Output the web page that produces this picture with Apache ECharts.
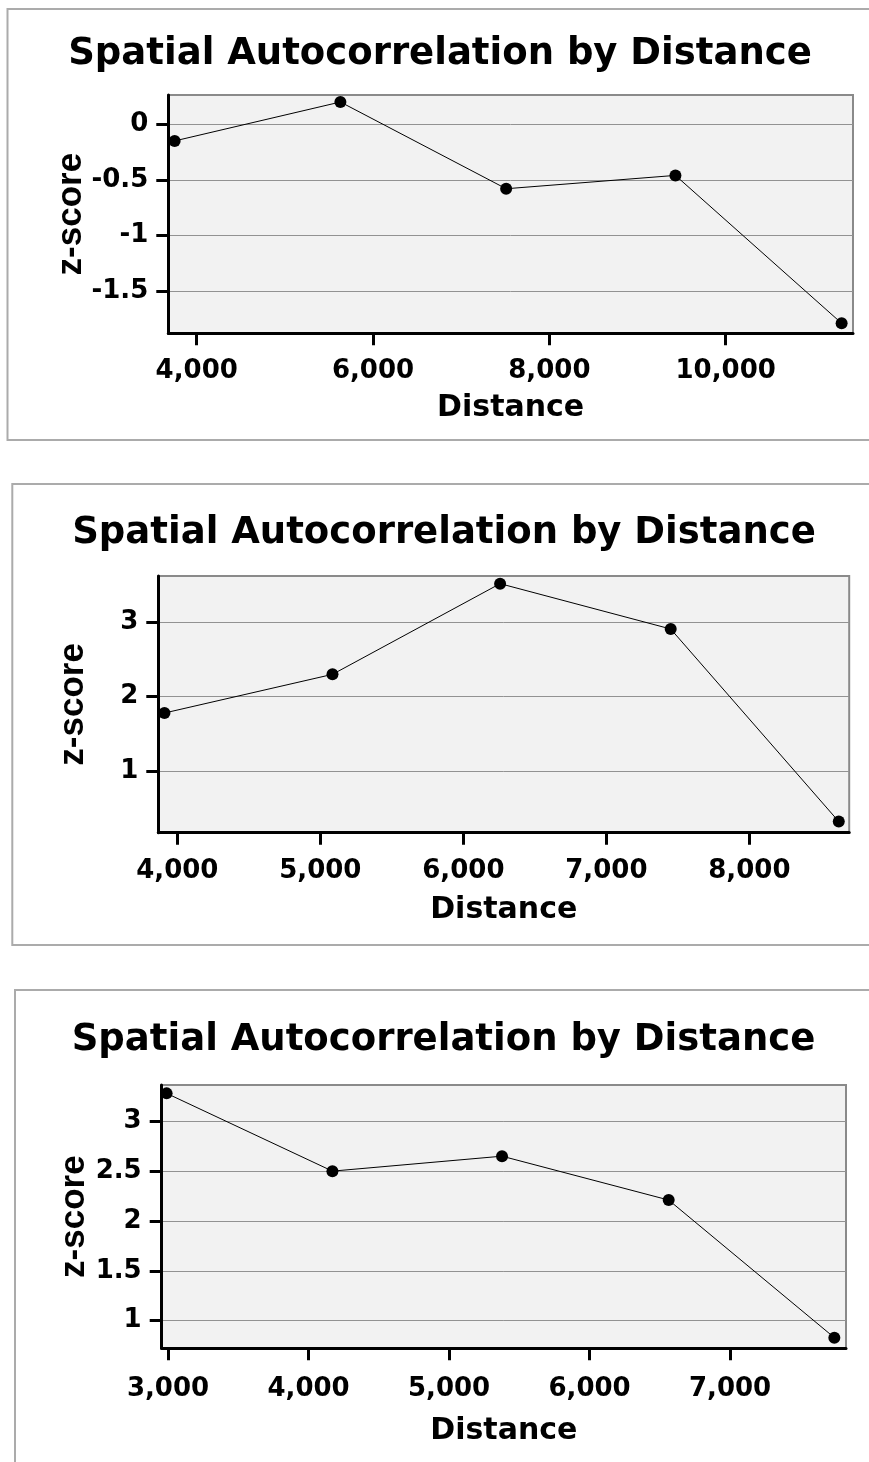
<!DOCTYPE html>
<html><head><meta charset="utf-8">
<script src="https://cdn.jsdelivr.net/npm/echarts@6/dist/echarts.min.js"></script>
<style>html,body{margin:0;padding:0;background:#fff}#c{width:869px;height:1462px}</style>
</head><body><div id="c"></div>
<script>
// ---- data ----
const titleText = 'Spatial Autocorrelation by Distance';
const xName = 'Distance';
const yName = 'z-score';

const dist1 = [3750, 5630, 7510, 9430, 11315];
const z1 = [-0.15, 0.20, -0.58, -0.46, -1.79];
const xTicks1 = [4000, 6000, 8000, 10000];
const yTicks1 = [-1.5, -1, -0.5, 0];

const dist2 = [3910, 5085, 6257, 7450, 8625];
const z2 = [1.78, 2.30, 3.52, 2.91, 0.32];
const xTicks2 = [4000, 5000, 6000, 7000, 8000];
const yTicks2 = [1, 2, 3];

const dist3 = [2990, 4170, 5377, 6563, 7742];
const z3 = [3.28, 2.50, 2.65, 2.21, 0.83];
const xTicks3 = [3000, 4000, 5000, 6000, 7000];
const yTicks3 = [1, 1.5, 2, 2.5, 3];

// axis extents
const xRange1 = [3678, 11444], yRange1 = [-1.88, 0.263];
const xRange2 = [3867, 8698],  yRange2 = [0.17, 3.623];
const xRange3 = [2955, 7825],  yRange3 = [0.723, 3.364];

// ---- layout ----
const panels = [
  {dist: dist1, z: z1, xt: xTicks1, yt: yTicks1, xr: xRange1, yr: yRange1,
   grid: {left: 168.3, top: 95, width: 684.7, height: 238.3}, tc: 440, tt: 36,
   xm: 25, xg: 60, yg: 79, frame: {x: 7.5, y: 9, h: 431}},
  {dist: dist2, z: z2, xt: xTicks2, yt: yTicks2, xr: xRange2, yr: yRange2,
   grid: {left: 158.3, top: 576, width: 690.9, height: 256.7}, tc: 444, tt: 515,
   xm: 26, xg: 63, yg: 67, frame: {x: 12.3, y: 484, h: 461}},
  {dist: dist3, z: z3, xt: xTicks3, yt: yTicks3, xr: xRange3, yr: yRange3,
   grid: {left: 161.7, top: 1085, width: 684.3, height: 263.3}, tc: 443.5, tt: 1022,
   xm: 28, xg: 68, yg: 70, frame: {x: 15, y: 990, h: 600}}
];

const FONT = '"DejaVu Sans", "Liberation Sans", sans-serif';
const TITLE_SIZE = 37;
const ctx = document.createElement('canvas').getContext('2d');
ctx.font = 'bold ' + TITLE_SIZE + 'px "DejaVu Sans"';
const titleW = ctx.measureText(titleText).width;

function fmtThousands(v) {
  return String(Math.round(v)).replace(/\B(?=(\d{3})+(?!\d))/g, ',');
}

const option = {
  animation: false,
  backgroundColor: '#fff',
  title: [], grid: [], xAxis: [], yAxis: [], series: [], graphic: []
};

panels.forEach((p, i) => {
  option.graphic.push({
    type: 'rect', z: -10, silent: true,
    shape: {x: p.frame.x, y: p.frame.y, width: 1000, height: p.frame.h},
    style: {fill: 'none', stroke: '#ababab', lineWidth: 2}
  });
  option.title.push({
    text: titleText, left: p.tc - titleW / 2, top: p.tt, padding: 0,
    textStyle: {fontFamily: FONT, fontWeight: 'bold', fontSize: TITLE_SIZE, color: '#000'}
  });
  option.grid.push(Object.assign({show: true, backgroundColor: '#f2f2f2', borderColor: '#8a8a8a', borderWidth: 2, containLabel: false}, p.grid));
  option.xAxis.push({
    type: 'value', gridIndex: i, min: p.xr[0], max: p.xr[1],
    name: xName, nameLocation: 'middle', nameGap: p.xg,
    nameTextStyle: {fontFamily: FONT, fontWeight: 'bold', fontSize: 30, color: '#000'},
    axisLine: {show: true, onZero: false, lineStyle: {color: '#000', width: 3}},
    axisTick: {show: true, inside: false, length: 12, customValues: p.xt, lineStyle: {color: '#000', width: 3}},
    axisLabel: {show: true, customValues: p.xt, margin: p.xm, formatter: fmtThousands,
      fontFamily: FONT, fontWeight: 'bold', fontSize: 26, color: '#000'},
    splitLine: {show: false}
  });
  option.yAxis.push({
    type: 'value', gridIndex: i, min: p.yr[0], max: p.yr[1],
    name: yName, nameLocation: 'middle', nameGap: p.yg, nameRotate: 90, nameMoveOverlap: false,
    nameTextStyle: {fontFamily: '"Liberation Sans", Arial, sans-serif', fontWeight: 'bold', fontSize: 35, color: '#000'},
    axisLine: {show: true, onZero: false, lineStyle: {color: '#000', width: 3}},
    axisTick: {show: true, inside: false, length: 12, customValues: p.yt, lineStyle: {color: '#000', width: 3}},
    axisLabel: {show: true, customValues: p.yt, margin: 20,
      fontFamily: FONT, fontWeight: 'bold', fontSize: 26, color: '#000'},
    splitLine: {show: true, lineStyle: {color: '#929292', width: 1}}
  });
  option.series.push({
    type: 'line', xAxisIndex: i, yAxisIndex: i,
    data: p.dist.map((d, k) => [d, p.z[k]]),
    symbol: 'circle', symbolSize: 12, showSymbol: true, clip: false,
    itemStyle: {color: '#000'},
    lineStyle: {color: '#000', width: 1}
  });
});

const chart = echarts.init(document.getElementById('c'), null, {renderer: 'canvas'});
chart.setOption(option);
</script>
</body></html>
